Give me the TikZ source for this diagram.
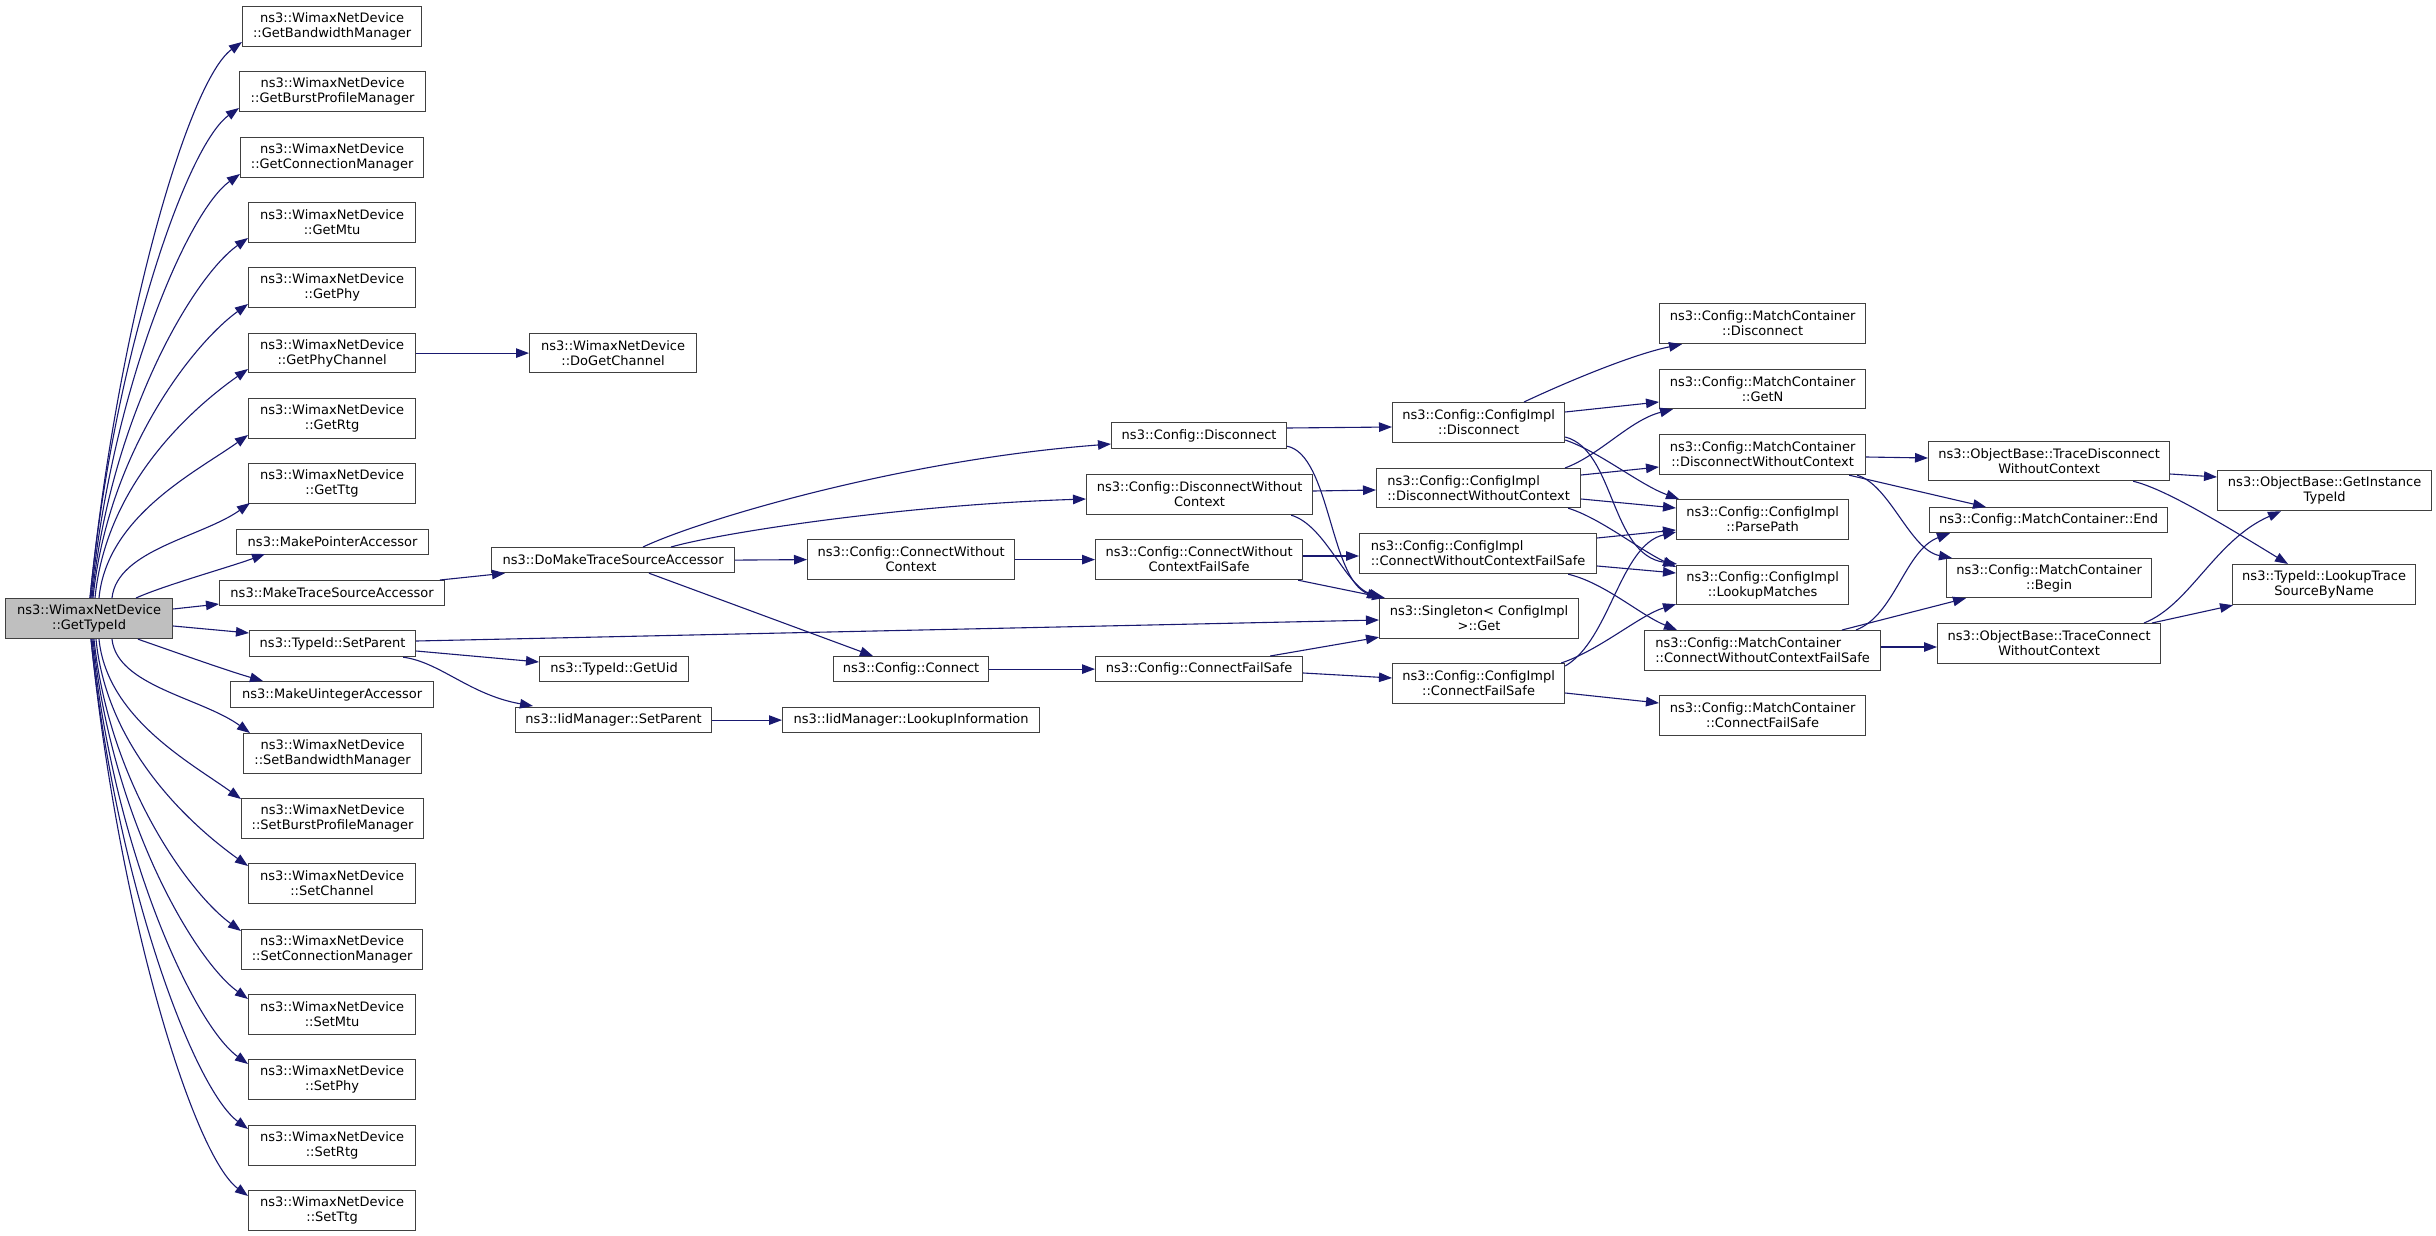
\documentclass[tikz,border=0pt]{standalone}
\usepackage{fontspec}
\setmainfont{DejaVu Sans}
\usetikzlibrary{arrows.meta}
\definecolor{edgec}{HTML}{191970}
\definecolor{bord}{HTML}{404040}
\definecolor{gfill}{HTML}{BFBFBF}
\tikzset{
 box/.style={draw=bord, line width=1.2pt, fill=white, inner sep=0pt, align=center, font=\fontsize{13}{15}\selectfont, text=black},
 lbox/.style={align=left},
 rootbox/.style={fill=gfill},
 cg/.style={draw=edgec, line width=1.1pt, -{Triangle[length=13pt,width=9.5pt]}},
}
\newcommand\nb[7][]{%
 \pgfmathsetmacro\nbW{#5-#3}\pgfmathsetmacro\nbH{#6-#4}%
 \node[box,#1,minimum width=\nbW pt,minimum height=\nbH pt,anchor=north west] (#2) at (#3,#4) {#7};}
\begin{document}
\begin{tikzpicture}[x=1pt,y=-1pt]
\useasboundingbox[fill=white] (0,0) rectangle (2436,1236);
% left column
\nb[rootbox]{gtid}{5}{598}{172}{638}{ns3::WimaxNetDevice\\::GetTypeId}
\nb{gbm}{242}{6}{421}{46}{ns3::WimaxNetDevice\\::GetBandwidthManager}
\nb{gbpm}{239}{71}{425}{111}{ns3::WimaxNetDevice\\::GetBurstProfileManager}
\nb{gcm}{240}{137}{423}{177}{ns3::WimaxNetDevice\\::GetConnectionManager}
\nb{gmtu}{248}{202}{415}{242}{ns3::WimaxNetDevice\\::GetMtu}
\nb{gphy}{248}{267}{415}{307}{ns3::WimaxNetDevice\\::GetPhy}
\nb{gpc}{248}{333}{415}{372}{ns3::WimaxNetDevice\\::GetPhyChannel}
\nb{dgc}{529}{333}{696}{372}{ns3::WimaxNetDevice\\::DoGetChannel}
\nb{grtg}{248}{398}{415}{438}{ns3::WimaxNetDevice\\::GetRtg}
\nb{gttg}{248}{463}{415}{503}{ns3::WimaxNetDevice\\::GetTtg}
\nb{mpa}{236}{529}{428}{554}{ns3::MakePointerAccessor}
\nb{mtsa}{219}{580}{444}{605}{ns3::MakeTraceSourceAccessor}
\nb{dmtsa}{491}{547}{734}{572}{ns3::DoMakeTraceSourceAccessor}
\nb{tsp}{249}{630}{415}{656}{ns3::TypeId::SetParent}
\nb{tgu}{539}{656}{688}{681}{ns3::TypeId::GetUid}
\nb{ism}{515}{707}{711}{732}{ns3::IidManager::SetParent}
\nb{ili}{782}{707}{1039}{732}{ns3::IidManager::LookupInformation}
\nb{mua}{230}{681}{433}{707}{ns3::MakeUintegerAccessor}
\nb{sbm}{243}{733}{421}{773}{ns3::WimaxNetDevice\\::SetBandwidthManager}
\nb{sbpm}{241}{798}{423}{838}{ns3::WimaxNetDevice\\::SetBurstProfileManager}
\nb{sch}{248}{863}{415}{903}{ns3::WimaxNetDevice\\::SetChannel}
\nb{scm}{241}{929}{422}{969}{ns3::WimaxNetDevice\\::SetConnectionManager}
\nb{smtu}{248}{994}{415}{1034}{ns3::WimaxNetDevice\\::SetMtu}
\nb{sphy}{248}{1059}{415}{1099}{ns3::WimaxNetDevice\\::SetPhy}
\nb{srtg}{248}{1125}{415}{1165}{ns3::WimaxNetDevice\\::SetRtg}
\nb{sttg}{248}{1190}{415}{1230}{ns3::WimaxNetDevice\\::SetTtg}
% middle
\nb{cdis}{1111}{422}{1286}{448}{ns3::Config::Disconnect}
\nb{cdwc}{1086}{474}{1312}{514}{ns3::Config::DisconnectWithout\\Context}
\nb{ccwc}{807}{539}{1014}{579}{ns3::Config::ConnectWithout\\Context}
\nb{ccwcfs}{1095}{539}{1302}{579}{ns3::Config::ConnectWithout\\ContextFailSafe}
\nb{ccon}{833}{656}{988}{681}{ns3::Config::Connect}
\nb{ccfs}{1095}{656}{1302}{681}{ns3::Config::ConnectFailSafe}
\nb{sing}{1379}{598}{1578}{638}{ns3::Singleton< ConfigImpl\\ >::Get}
\nb{cidis}{1392}{402}{1564}{442}{ns3::Config::ConfigImpl\\::Disconnect}
\nb[lbox]{cidwc}{1376}{468}{1580}{507}{ns3::Config::ConfigImpl\\::DisconnectWithoutContext}
\nb[lbox]{cicwcfs}{1359}{533}{1596}{573}{ns3::Config::ConfigImpl\\::ConnectWithoutContextFailSafe}
\nb{cicfs}{1392}{663}{1564}{703}{ns3::Config::ConfigImpl\\::ConnectFailSafe}
% right
\nb{mcdis}{1659}{303}{1865}{343}{ns3::Config::MatchContainer\\::Disconnect}
\nb{mcgetn}{1659}{369}{1865}{408}{ns3::Config::MatchContainer\\::GetN}
\nb{mcdwc}{1659}{434}{1865}{474}{ns3::Config::MatchContainer\\::DisconnectWithoutContext}
\nb{pp}{1676}{499}{1848}{539}{ns3::Config::ConfigImpl\\::ParsePath}
\nb{lm}{1676}{565}{1848}{604}{ns3::Config::ConfigImpl\\::LookupMatches}
\nb[lbox]{mccwcfs}{1644}{630}{1880}{670}{ns3::Config::MatchContainer\\::ConnectWithoutContextFailSafe}
\nb{mccfs}{1659}{695}{1865}{735}{ns3::Config::MatchContainer\\::ConnectFailSafe}
\nb{tdwc}{1928}{441}{2169}{480}{ns3::ObjectBase::TraceDisconnect\\WithoutContext}
\nb{mcend}{1929}{507}{2167}{532}{ns3::Config::MatchContainer::End}
\nb{mcbegin}{1946}{558}{2151}{597}{ns3::Config::MatchContainer\\::Begin}
\nb{tcwc}{1937}{623}{2160}{663}{ns3::ObjectBase::TraceConnect\\WithoutContext}
\nb{git}{2217}{470}{2431}{510}{ns3::ObjectBase::GetInstance\\TypeId}
\nb{ltsn}{2232}{564}{2415}{604}{ns3::TypeId::LookupTrace\\SourceByName}
% edges: GetTypeId upward fan
\draw[cg] ([shift={(85,0)}]gtid.north west) .. controls (118,320) and (189,80) .. ([shift={(0,36)}]gbm.north west);
\draw[cg] ([shift={(85,0)}]gtid.north west) .. controls (114,353) and (187,145) .. ([shift={(0,37)}]gbpm.north west);
\draw[cg] ([shift={(86,0)}]gtid.north west) .. controls (112,386) and (188,211) .. ([shift={(0,37)}]gcm.north west);
\draw[cg] ([shift={(87,0)}]gtid.north west) .. controls (110,418) and (193,277) .. ([shift={(0,36)}]gmtu.north west);
\draw[cg] ([shift={(88,0)}]gtid.north west) .. controls (108,451) and (194,343) .. ([shift={(0,37)}]gphy.north west);
\draw[cg] ([shift={(90,0)}]gtid.north west) .. controls (106,483) and (194,407) .. ([shift={(0,36)}]gpc.north west);
\draw[cg] ([shift={(94,0)}]gtid.north west) .. controls (107,516) and (196,472) .. ([shift={(0,37)}]grtg.north west);
\draw[cg] ([shift={(107,0)}]gtid.north west) .. controls (117,550) and (202,537) .. ([shift={(2,40)}]gttg.north west);
\draw[cg] ([shift={(131,0)}]gtid.north west) .. controls (165,585) and (230,567) .. ([shift={(29,25)}]mpa.north west);
\draw[cg] ([shift={(0,11)}]gtid.north east) -- ([shift={(0,24)}]mtsa.north west);
\draw[cg] ([shift={(0,28)}]gtid.north east) -- ([shift={(0,3)}]tsp.north west);
% GetTypeId downward fan
\draw[cg] ([shift={(133,0)}]gtid.south west) .. controls (175,652) and (225,670) .. ([shift={(33,0)}]mua.north west);
\draw[cg] ([shift={(107,0)}]gtid.south west) .. controls (117,686) and (202,698) .. ([shift={(7,0)}]sbm.north west);
\draw[cg] ([shift={(94,0)}]gtid.south west) .. controls (107,718) and (191,763) .. ([shift={(0,1)}]sbpm.north west);
\draw[cg] ([shift={(91,0)}]gtid.south west) .. controls (107,752) and (195,828) .. ([shift={(0,3)}]sch.north west);
\draw[cg] ([shift={(89,0)}]gtid.south west) .. controls (109,784) and (190,894) .. ([shift={(0,2)}]scm.north west);
\draw[cg] ([shift={(88,0)}]gtid.south west) .. controls (111,818) and (194,960) .. ([shift={(0,5)}]smtu.north west);
\draw[cg] ([shift={(87,0)}]gtid.south west) .. controls (113,851) and (194,1025) .. ([shift={(0,5)}]sphy.north west);
\draw[cg] ([shift={(86,0)}]gtid.south west) .. controls (116,883) and (194,1089) .. ([shift={(0,4)}]srtg.north west);
\draw[cg] ([shift={(86,0)}]gtid.south west) .. controls (119,917) and (194,1156) .. ([shift={(0,6)}]sttg.north west);
% left-middle
\draw[cg] (gpc.east) -- (dgc.west);
\draw[cg] ([shift={(221,0)}]mtsa.north west) -- ([shift={(14,0)}]dmtsa.south west);
\draw[cg] ([shift={(152,0)}]dmtsa.north west) .. controls (700,520) and (900,460) .. ([shift={(0,22)}]cdis.north west);
\draw[cg] ([shift={(180,0)}]dmtsa.north west) .. controls (720,533) and (900,505) .. ([shift={(0,25)}]cdwc.north west);
\draw[cg] (dmtsa.east) -- (ccwc.west);
\draw[cg] ([shift={(158,0)}]dmtsa.south west) -- ([shift={(40,0)}]ccon.north west);
\draw[cg] (ccwc.east) -- (ccwcfs.west);
\draw[cg] (ccon.east) -- (ccfs.west);
\draw[cg] ([shift={(0,11)}]tsp.north east) -- ([shift={(0,22)}]sing.north west);
\draw[cg] ([shift={(0,21)}]tsp.north east) -- ([shift={(0,6)}]tgu.north west);
\draw[cg] ([shift={(-13,0)}]tsp.south east) .. controls (440,662) and (470,695) .. ([shift={(18,-1)}]ism.north west);
\draw[cg] (ism.east) -- (ili.west);
% middle
\draw[cg] ([shift={(0,6)}]cdis.north east) -- ([shift={(0,25)}]cidis.north west);
\draw[cg] ([shift={(0,-3)}]cdis.south east) .. controls (1330,455) and (1330,580) .. ([shift={(1,0)}]sing.north west);
\draw[cg] ([shift={(0,17)}]cdwc.north east) -- ([shift={(0,22)}]cidwc.north west);
\draw[cg] ([shift={(-22,0)}]cdwc.south east) .. controls (1325,525) and (1345,585) .. ([shift={(3,0)}]sing.north west);
\draw[cg] ([shift={(0,17)}]ccwcfs.north east) -- ([shift={(0,23)}]cicwcfs.north west);
\draw[cg] ([shift={(-5,0)}]ccwcfs.south east) -- ([shift={(6,0)}]sing.north west);
\draw[cg] ([shift={(-33,0)}]ccfs.north east) -- ([shift={(0,-2)}]sing.south west);
\draw[cg] ([shift={(0,17)}]ccfs.north east) -- ([shift={(0,15)}]cicfs.north west);
% ConfigImpl fan-out
\draw[cg] ([shift={(132,0)}]cidis.north west) .. controls (1560,385) and (1630,355) .. ([shift={(23,0)}]mcdis.south west);
\draw[cg] ([shift={(0,10)}]cidis.north east) -- ([shift={(0,33)}]mcgetn.north west);
\draw[cg] ([shift={(0,38)}]cidis.north east) .. controls (1600,452) and (1640,485) .. ([shift={(3,0)}]pp.north west);
\draw[cg] ([shift={(0,35)}]cidis.north east) .. controls (1615,450) and (1610,555) .. ([shift={(1,-1)}]lm.north west);
\draw[cg] ([shift={(189,0)}]cidwc.north west) .. controls (1600,455) and (1630,420) .. ([shift={(14,0)}]mcgetn.south west);
\draw[cg] ([shift={(0,7)}]cidwc.north east) -- ([shift={(0,33)}]mcdwc.north west);
\draw[cg] ([shift={(0,31)}]cidwc.north east) -- ([shift={(0,9)}]pp.north west);
\draw[cg] ([shift={(-13,0)}]cidwc.south east) .. controls (1600,518) and (1640,550) .. ([shift={(0,2)}]lm.north west);
\draw[cg] ([shift={(0,5)}]cicwcfs.north east) -- ([shift={(0,31)}]pp.north west);
\draw[cg] ([shift={(0,33)}]cicwcfs.north east) -- ([shift={(0,8)}]lm.north west);
\draw[cg] ([shift={(-29,0)}]cicwcfs.south east) .. controls (1605,583) and (1640,615) .. ([shift={(33,0)}]mccwcfs.north west);
\draw[cg] ([shift={(0,3)}]cicfs.north east) .. controls (1610,640) and (1620,545) .. ([shift={(0,33)}]pp.north west);
\draw[cg] ([shift={(-4,0)}]cicfs.north east) .. controls (1600,650) and (1640,615) .. ([shift={(0,-1)}]lm.south west);
\draw[cg] ([shift={(0,30)}]cicfs.north east) -- ([shift={(0,8)}]mccfs.north west);
% right
\draw[cg] ([shift={(0,23)}]mcdwc.north east) -- ([shift={(0,17)}]tdwc.north west);
\draw[cg] ([shift={(-17,0)}]mcdwc.south east) -- ([shift={(57,0)}]mcend.north west);
\draw[cg] ([shift={(-9,0)}]mcdwc.south east) .. controls (1890,485) and (1910,550) .. ([shift={(6,0)}]mcbegin.north west);
\draw[cg] ([shift={(212,0)}]mccwcfs.north west) .. controls (1895,615) and (1905,550) .. ([shift={(21,0)}]mcend.south west);
\draw[cg] ([shift={(198,0)}]mccwcfs.north west) -- ([shift={(20,0)}]mcbegin.south west);
\draw[cg] ([shift={(0,17)}]mccwcfs.north east) -- ([shift={(0,24)}]tcwc.north west);
\draw[cg] ([shift={(0,33)}]tdwc.north east) -- ([shift={(0,7)}]git.north west);
\draw[cg] ([shift={(-37,0)}]tdwc.south east) .. controls (2160,488) and (2200,510) .. ([shift={(56,0)}]ltsn.north west);
\draw[cg] ([shift={(207,0)}]tcwc.north west) .. controls (2190,605) and (2215,540) .. ([shift={(64,0)}]git.south west);
\draw[cg] ([shift={(215,0)}]tcwc.north west) -- ([shift={(1,0)}]ltsn.south west);
\end{tikzpicture}
\end{document}
